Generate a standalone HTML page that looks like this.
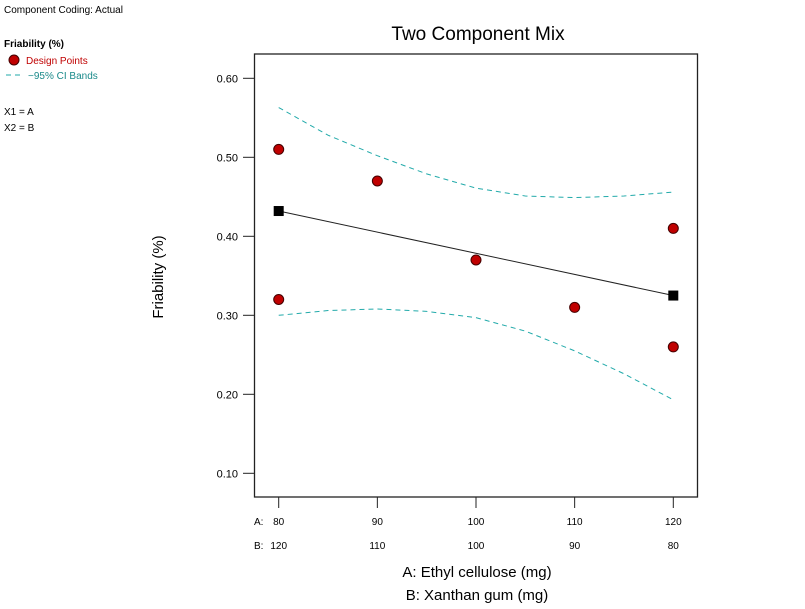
<!DOCTYPE html>
<html><head><meta charset="utf-8"><style>
body{margin:0;background:#fff;font-family:"Liberation Sans",sans-serif;}
text{font-family:"Liberation Sans",sans-serif;}
</style></head><body>
<svg width="805" height="604" xmlns="http://www.w3.org/2000/svg">
<text x="4" y="13" font-size="10">Component Coding: Actual</text>
<text x="4" y="47" font-size="10" font-weight="bold">Friability (%)</text>
<circle cx="14" cy="60" r="5" fill="#c00000" stroke="#400" stroke-width="1"/>
<text x="26" y="64" font-size="10" fill="#c00000">Design Points</text>
<line x1="6" y1="75" x2="24" y2="75" stroke="#2aa" stroke-dasharray="5,4"/>
<text x="28" y="79" font-size="10" fill="#1a8a8a">−95% CI Bands</text>
<text x="4" y="115" font-size="10">X1 = A</text>
<text x="4" y="131" font-size="10">X2 = B</text>
<text x="478" y="40" font-size="19" text-anchor="middle">Two Component Mix</text>
<rect x="254.5" y="54" width="443" height="443" fill="none" stroke="#222" stroke-width="1.3"/>
<text transform="translate(163,277) rotate(-90)" font-size="15" text-anchor="middle">Friability (%)</text>
<text x="477" y="577" font-size="15" text-anchor="middle">A: Ethyl cellulose (mg)</text>
<text x="477" y="600" font-size="15" text-anchor="middle">B: Xanthan gum (mg)</text>
<g id="axes"></g><g id="marks"></g>
</svg>
<script>
const yTicks=[0.10,0.20,0.30,0.40,0.50,0.60];
const xTicksA=[80,90,100,110,120];
const xTicksB=[120,110,100,90,80];
const ptsA=[80,80,90,100,110,120,120];
const ptsY=[0.51,0.32,0.47,0.37,0.31,0.41,0.26];
const bandA=[80,85,90,95,100,105,110,115,120];
const upperY=[0.563,0.528,0.502,0.479,0.461,0.451,0.449,0.451,0.456];
const lowerY=[0.300,0.306,0.308,0.305,0.297,0.280,0.255,0.226,0.193];
const fitA=[80,120];
const fitY=[0.432,0.325];
const NS="http://www.w3.org/2000/svg";
const X=a=>278.7+(a-80)*(673.3-278.7)/40;
const Y=v=>473.3-(v-0.1)*790;
function mk(t,at,parent){const e=document.createElementNS(NS,t);for(const k in at)e.setAttribute(k,at[k]);parent.appendChild(e);return e;}
const ax=document.getElementById('axes'),mg=document.getElementById('marks');
yTicks.forEach(v=>{
 const l=mk('line',{x1:243,x2:254.5,y1:Y(v),y2:Y(v),stroke:'#222'},ax);
 
 
 const t=mk('text',{x:238,y:Y(v)+4,'font-size':11,'text-anchor':'end'},ax);t.textContent=v.toFixed(2);
 
 
});
xTicksA.forEach((a,i)=>{
 const l=mk('line',{x1:X(a),x2:X(a),y1:497,y2:508,stroke:'#222'},ax);
 
 
 const t=mk('text',{x:X(a),y:525,'font-size':10,'text-anchor':'middle'},ax);t.textContent=a;
 
 
 const t2=mk('text',{x:X(a),y:549,'font-size':10,'text-anchor':'middle'},ax);t2.textContent=xTicksB[i];
 
 
});
const ta=mk('text',{x:254,y:525,'font-size':10},ax);ta.textContent='A:';


const tb=mk('text',{x:254,y:549,'font-size':10},ax);tb.textContent='B:';


function poly(xs,ys){return xs.map((a,i)=>X(a)+','+Y(ys[i])).join(' ');}
const up=mk('polyline',{points:poly(bandA,upperY),fill:'none',stroke:'#2aa','stroke-dasharray':'5,4'},mg);


const lo=mk('polyline',{points:poly(bandA,lowerY),fill:'none',stroke:'#2aa','stroke-dasharray':'5,4'},mg);


const fl=mk('polyline',{points:poly(fitA,fitY),fill:'none',stroke:'#222'},mg);


fitA.forEach((a,i)=>{
 const r=mk('rect',{x:X(a)-5,y:Y(fitY[i])-5,width:10,height:10,fill:'#000'},mg);
 
 
});
ptsA.forEach((a,i)=>{
 const c=mk('circle',{cx:X(a),cy:Y(ptsY[i]),r:5,fill:'#c00000',stroke:'#400'},mg);
 
 
});
</script>
</body></html>
